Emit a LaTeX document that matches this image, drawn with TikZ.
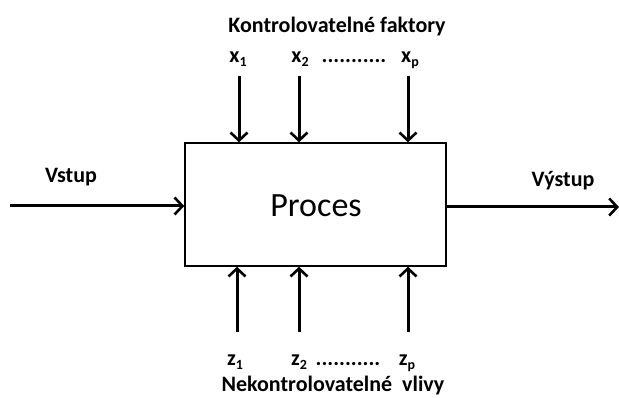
\documentclass[tikz,border=0pt]{standalone}
\usepackage{fontspec}
\setmainfont{Carlito}
\usetikzlibrary{arrows.meta}
\newcommand{\lbsub}[2]{#1\raisebox{-0.35ex}{\fontsize{14}{15}\selectfont #2}}
\begin{document}
\begin{tikzpicture}[x=1pt,y=-1pt,
  arr/.style={line width=3pt,-{Straight Barb[length=8pt,width=17pt,line width=2.6pt]}},
  lbl/.style={font=\fontsize{22}{24}\selectfont\bfseries,inner sep=0pt,anchor=base},
  proc/.style={draw,line width=1.4pt,minimum width=261pt,minimum height=123pt},
  proctext/.style={font=\fontsize{34}{36}\selectfont,inner sep=0pt,anchor=base}]
\useasboundingbox (0,0) rectangle (619,398);
\node[proc] (p) at (315.5,204.5) {};
\node[proctext] (pt) at (316,217) {Proces};
% top
\node[lbl] (kt) at (337,33) {Kontrolovatelné faktory};
\node[lbl] (x1) at (238,63) {\lbsub{x}{1}};
\node[lbl] (x2) at (300,63) {\lbsub{x}{2}};
\node[lbl] (xd) at (354,63) {...........};
\node[lbl] (xp) at (410,63) {\lbsub{x}{p}};
\coordinate (a1) at (239,76);
\coordinate (a2) at (299,76);
\coordinate (a3) at (408,76);
\draw[arr] (a1) -- (a1 |- p.north);
\draw[arr] (a2) -- (a2 |- p.north);
\draw[arr] (a3) -- (a3 |- p.north);
% bottom
\coordinate (b1) at (237,332);
\coordinate (b2) at (299,332);
\coordinate (b3) at (408,332);
\draw[arr] (b1) -- (b1 |- p.south);
\draw[arr] (b2) -- (b2 |- p.south);
\draw[arr] (b3) -- (b3 |- p.south);
\node[lbl] (z1) at (235,366) {\lbsub{z}{1}};
\node[lbl] (z2) at (299,366) {\lbsub{z}{2}};
\node[lbl] (zd) at (348,366) {...........};
\node[lbl] (zp) at (407,366) {\lbsub{z}{p}};
\node[lbl] (nv) at (333,391.5) {Nekontrolovatelné\ \ vlivy};
% sides
\node[lbl] (vs) at (71,183) {Vstup};
\node[lbl] (vy) at (563,187) {Výstup};
\coordinate (in) at (10,206);
\coordinate (out) at (619,207);
\draw[arr] (in) -- (in -| p.west);
\draw[arr] (p.east |- out) -- (out);
\end{tikzpicture}
\end{document}
